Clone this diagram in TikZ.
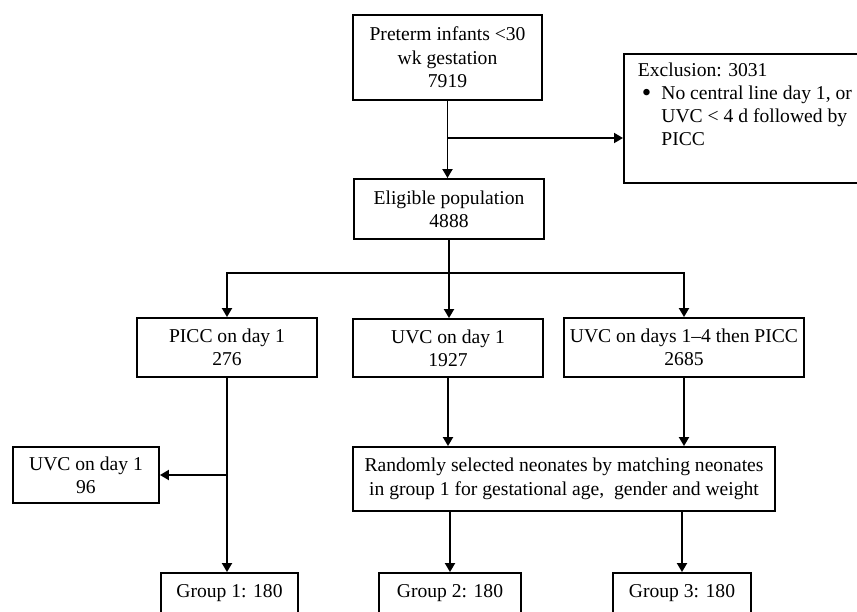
\documentclass[tikz,border=0pt]{standalone}
\usepackage{fontspec}
\setmainfont{Liberation Serif}
\usetikzlibrary{arrows.meta}

\begin{document}
\begin{tikzpicture}
	[x=0.5pt, y=-0.5pt,
	line width=0.95pt,
	box/.style = {draw, rectangle, align=center, inner sep=2pt, font=\fontsize{9.8}{11.7}\selectfont},
	exbox/.style = {draw, rectangle, inner xsep=7pt, inner ysep=4pt, font=\fontsize{9.8}{11.5}\selectfont},
	arr/.style = {-{Triangle[length=4.5pt,width=5pt]}}]
\useasboundingbox (0,0) rectangle (857,611);
\clip (0,0) rectangle (857,611);
\node[box, minimum width=94.5pt, minimum height=42.5pt] (start) at (447.5,57.5) {Preterm infants <30\\wk gestation\\7919};
\node[box, minimum width=95pt, minimum height=30pt] (elig) at (449,209) {Eligible population\\4888};
\node[exbox, anchor=north west, text height=7.5pt, text depth=49pt] (excl) at (623,53) {\makebox[109.5pt][l]{\begin{tabular}[t]{@{\hspace{2pt}}l@{\hspace{5pt}}l@{}}
	\multicolumn{2}{@{}l@{}}{Exclusion: 3031}\\
	\raisebox{-0.7pt}{\fontsize{13.5}{11.5}\selectfont\textbullet} & No central line day 1, or\\
	 & UVC < 4 d followed by\\
	 & PICC
	\end{tabular}}};
\node[box, minimum width=90pt, minimum height=29.5pt] (picc) at (227,347.5) {PICC on day 1\\276};
\node[box, minimum width=95pt, minimum height=29pt] (uvc1) at (448,348) {UVC on day 1\\1927};
\node[box, minimum width=120pt, minimum height=29.5pt] (uvcd) at (684,347.5) {UVC on days 1--4 then PICC\\2685};
\node[box, minimum width=73pt, minimum height=28pt] (uvc96) at (86,475) {UVC on day 1\\96};
\node[box, minimum width=211pt, minimum height=32pt] (rand) at (564,479) {Randomly selected neonates by matching neonates\\in group 1 for gestational age, \ gender and weight};
\node[box, minimum width=68.5pt, minimum height=20pt] (g1) at (229.5,593) {Group 1: 180};
\node[box, minimum width=71pt, minimum height=20pt] (g2) at (450,593) {Group 2: 180};
\node[box, minimum width=69pt, minimum height=20pt] (g3) at (682,593) {Group 3: 180};
\coordinate (ex) at (447.5,138);
\coordinate (br) at (449,273);
\coordinate (sd) at (picc.south |- uvc96.east);
\draw[arr] (start.south) -- (start.south |- elig.north);
\draw[arr] (ex) -- (ex -| excl.west);
\draw (elig.south) -- (br);
\draw[arr] (br) -| (picc.north);
\draw[arr] (br) -- (br |- uvc1.north);
\draw[arr] (br) -| (uvcd.north);
\draw[arr] (picc.south) -- (picc.south |- g1.north);
\draw[arr] (sd) -- (uvc96.east);
\draw[arr] (uvc1.south) -- (uvc1.south |- rand.north);
\draw[arr] (uvcd.south) -- (uvcd.south |- rand.north);
\draw[arr] (g2.north |- rand.south) -- (g2.north);
\draw[arr] (g3.north |- rand.south) -- (g3.north);
%\draw[arr] (elig) -- (excl);
\end{tikzpicture}
\end{document}
